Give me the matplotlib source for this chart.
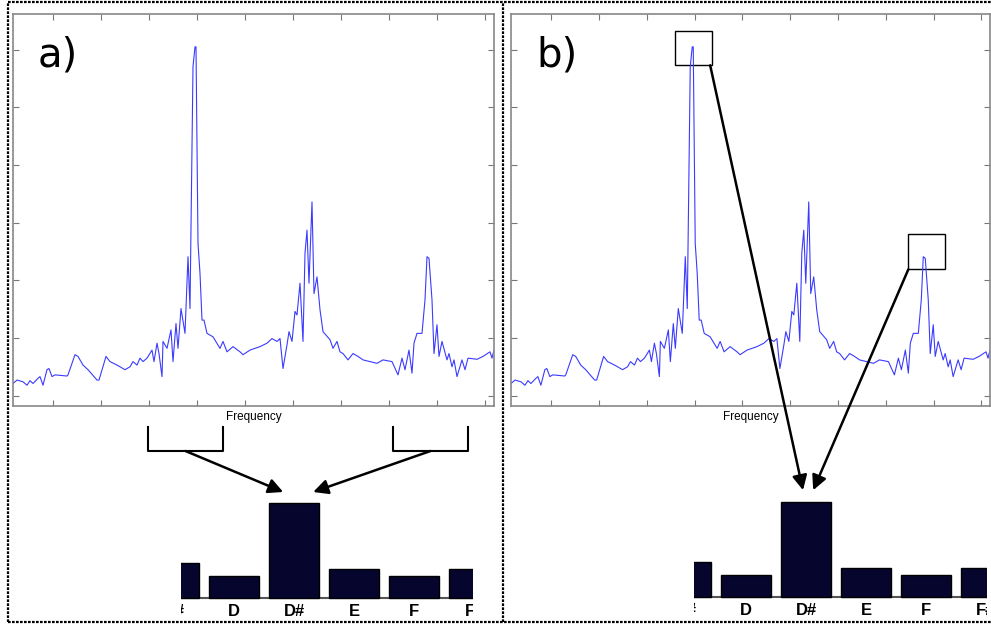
import matplotlib
matplotlib.use('Agg')
import matplotlib.pyplot as plt
import matplotlib.transforms as mtrans
from matplotlib.patches import Rectangle
from matplotlib.lines import Line2D
import numpy as np

plt.rcParams['font.family'] = ['Liberation Sans', 'DejaVu Sans']

# spectrum (frequency bin, magnitude)
freq = [13, 17, 23, 27, 30, 33, 38, 40, 43, 47,
        49, 52, 55, 67, 68, 75, 78, 83, 88, 97,
        99, 106, 110, 117, 125, 130, 133, 137, 140, 143,
        147, 152, 154, 157, 159, 162, 163, 167, 171, 173,
        176, 178, 181, 185, 188, 190, 193, 195, 196, 198,
        200, 202, 204, 207, 213, 220, 223, 227, 233, 240,
        243, 250, 260, 267, 272, 277, 280, 283, 287, 289,
        292, 295, 297, 300, 303, 305, 307, 309, 312, 314,
        317, 320, 323, 330, 333, 337, 340, 343, 348, 353,
        358, 363, 370, 377, 383, 392, 398, 402, 405, 409,
        412, 414, 417, 422, 425, 427, 429, 432, 434, 437,
        439, 442, 447, 449, 452, 454, 457, 462, 465, 468,
        477, 483, 490, 492, 494]
amp = [2.1, 2.7, 2.4, 1.8, 2.6, 2.1, 3.0, 3.3, 1.8, 4.5,
       4.7, 3.3, 3.6, 3.4, 3.6, 7.1, 6.8, 5.3, 4.5, 2.7,
       2.7, 6.8, 5.9, 5.3, 4.5, 5.0, 5.9, 5.3, 6.5, 5.9,
       6.5, 7.9, 5.9, 9.1, 7.3, 3.3, 9.4, 8.2, 11.4, 5.9,
       12.5, 8.2, 15.1, 10.8, 24.1, 15.1, 57.1, 60.5, 60.5, 26.4,
       21.2, 13.1, 13.1, 10.8, 10.2, 8.2, 9.4, 7.6, 8.5, 7.6,
       7.1, 7.9, 8.5, 9.1, 9.9, 9.4, 9.9, 4.7, 8.8, 11.1,
       9.4, 14.6, 14.0, 19.5, 9.4, 24.7, 28.7, 19.5, 33.6, 17.7,
       20.6, 14.9, 11.1, 9.7, 8.2, 9.4, 7.6, 7.3, 6.2, 7.3,
       6.8, 6.2, 5.9, 5.6, 6.2, 5.9, 3.6, 6.5, 4.5, 7.9,
       3.9, 9.1, 10.8, 10.8, 16.6, 24.1, 23.8, 16.6, 7.3, 12.3,
       6.8, 9.4, 6.2, 7.3, 5.0, 6.2, 3.3, 6.2, 4.5, 6.5,
       6.3, 6.8, 7.6, 6.5, 7.9]

notes = ['C#', 'D', 'D#', 'E', 'F', 'F#']
chroma = [35, 21.5, 95, 29, 22, 29]

windows = [(148, 223), (393, 468)]          # panel a frequency ranges
peak_boxes = [(178, 215, 57.3, 63.3), (412, 449, 21.9, 28.0)]  # panel b peaks

W, H = 991, 625
fig = plt.figure(figsize=(W / 100, H / 100), dpi=100)


def px_box(x0, y0, x1, y1):
    return [x0 / W, 1 - y1 / H, (x1 - x0) / W, (y1 - y0) / H]


def spectrum_axes(rect, label):
    ax = fig.add_axes(rect)
    ax.plot(freq, amp, color='#3b3bff', lw=0.8)
    ax.set_xlim(13, 494)
    ax.set_ylim(-1.8, 66.2)
    ax.set_xticks(np.arange(53.3, 494, 48))
    ax.set_yticks(np.arange(0, 61, 10))
    ax.tick_params(direction='in', length=4, color='#777777', top=True, right=True,
                   labelbottom=False, labelleft=False)
    for s in ax.spines.values():
        s.set_color('#888888')
        s.set_linewidth(1.2)
    ax.text(0.5, -11 / 392, 'Frequency', transform=ax.transAxes, ha='center', va='center',
            fontsize=8.5)
    fig.text(rect[0] + 25 / W, 1 - 67 / H, label, fontsize=29, va='baseline',
             family='DejaVu Sans')
    return ax


def chroma_axes(rect, xlim, ylim):
    ax = fig.add_axes(rect)
    ax.bar(range(len(notes)), chroma, width=0.82, color='#05052e', edgecolor='black', lw=1)
    ax.axhline(0, color='#555555', lw=1.5, zorder=0)
    for i, n in enumerate(notes):
        ax.text(i, -13.5, n, ha='center', va='center', fontsize=12, fontweight='bold',
                clip_on=True)
    ax.set_xlim(*xlim)
    ax.set_ylim(*ylim)
    ax.axis('off')
    return ax


ax_a = spectrum_axes(px_box(13, 14, 494, 406), 'a)')
ax_b = spectrum_axes(px_box(511, 14, 990, 406), 'b)')
bar_a = chroma_axes(px_box(181, 480, 473, 620), (0.117, 4.983), (-22.3, 117.7))
bar_b = chroma_axes(px_box(694, 480, 987, 620), (0.133, 5.017), (-23.3, 116.7))

arrow = dict(arrowstyle='-|>', mutation_scale=22, lw=1.8, color='black',
             shrinkA=0, shrinkB=0)

# panel a: brackets under the spectrum
blend = mtrans.blended_transform_factory(ax_a.transData, fig.transFigure)
y_top, y_bot = 1 - 427 / H, 1 - 451 / H
tips_a = [(1.82, 105.7), (2.32, 105.7)]
for (lo, hi), tip in zip(windows, tips_a):
    ax_a.plot([lo, lo, hi, hi], [y_top, y_bot, y_bot, y_top], color='black', lw=1.5,
              transform=blend, clip_on=False)
    bar_a.annotate('', xy=tip, xycoords='data', xytext=((lo + hi) / 2, y_bot),
                   textcoords=blend, arrowprops=arrow, annotation_clip=False)

# panel b: boxes around the peaks
starts_b = [(213, 57.3), (412, 21.9)]
tips_b = [(1.95, 106.5), (2.12, 106.5)]
for (x0, x1, y0, y1), st, tip in zip(peak_boxes, starts_b, tips_b):
    ax_b.add_patch(Rectangle((x0, y0), x1 - x0, y1 - y0, fill=False, ec='black', lw=1))
    bar_b.annotate('', xy=tip, xycoords='data', xytext=st, textcoords=ax_b.transData,
                   arrowprops=arrow, annotation_clip=False)

# dotted panel frames
dash = dict(color='black', lw=1.6, linestyle=(0, (1.2, 0.6)), transform=fig.transFigure)
top, bot = 1 - 2 / H, 1 - 621.7 / H
fig.lines.append(Line2D([8 / W, 1], [top, top], **dash))
fig.lines.append(Line2D([8 / W, 1], [bot, bot], **dash))
fig.lines.append(Line2D([8 / W, 8 / W], [bot, top], **dash))
fig.lines.append(Line2D([502.7 / W, 502.7 / W], [bot, top], **dash))

fig.savefig('out.png', dpi=100)
